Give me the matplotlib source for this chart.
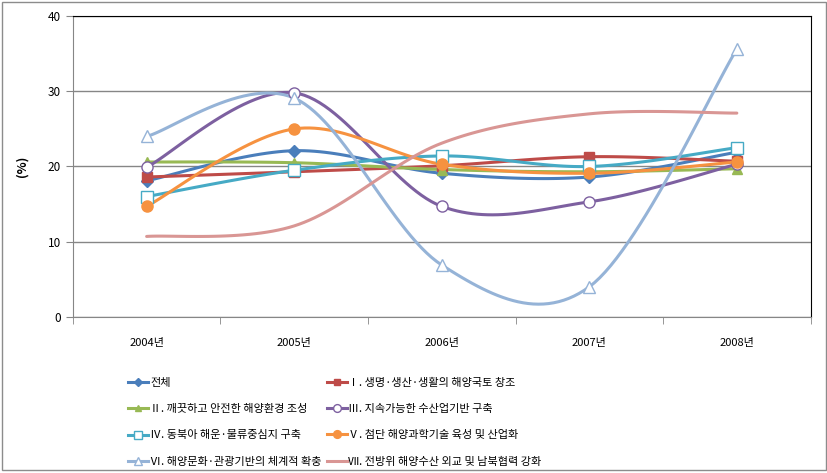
import numpy as np
import matplotlib
matplotlib.use('Agg')
import matplotlib.pyplot as plt
from matplotlib.patches import Rectangle

plt.rcParams['font.family'] = ['Noto Sans CJK KR', 'DejaVu Sans']

years = ['2004년', '2005년', '2006년', '2007년', '2008년']
names = ['전체',
         'Ⅰ. 생명·생산·생활의 해양국토 창조',
         'Ⅱ. 깨끗하고 안전한 해양환경 조성',
         'Ⅲ. 지속가능한 수산업기반 구축',
         'Ⅳ. 동북아 해운·물류중심지 구축',
         'Ⅴ. 첨단 해양과학기술 육성 및 산업화',
         'Ⅵ. 해양문화·관광기반의 체계적 확충',
         'Ⅶ. 전방위 해양수산 외교 및 남북협력 강화']

total = [18.1, 22.1, 19.1, 18.6, 21.9]
s1 = [18.6, 19.3, 20.1, 21.3, 20.7]
s2 = [20.6, 20.5, 19.6, 19.3, 19.7]
s3 = [19.9, 29.8, 14.7, 15.3, 20.3]
s4 = [16.0, 19.5, 21.4, 20.0, 22.5]
s5 = [14.7, 25.0, 20.3, 19.1, 20.6]
s6 = [24.0, 29.1, 6.9, 4.0, 35.6]
s7 = [10.7, 12.1, 23.1, 27.0, 27.1]
series = [total, s1, s2, s3, s4, s5, s6, s7]

colors = ['#4A7EBB', '#BE4B48', '#98B954', '#7D60A0',
          '#46AAC5', '#F69240', '#95B3D7', '#D99694']
markers = ['D', 's', '^', 'o', 's', 'o', '^', None]
filled = [True, True, True, False, False, True, False, True]
msizes = [6, 7, 7, 8, 8, 8, 9, 0]


def smooth(x, y, n=30):
    # Excel-like smoothed line (Catmull-Rom as cubic Bezier)
    x = np.asarray(x, float)
    y = np.asarray(y, float)
    px = np.concatenate([[x[0]], x, [x[-1]]])
    py = np.concatenate([[y[0]], y, [y[-1]]])
    t = np.linspace(0, 1, n)[:, None]
    xs, ys = [], []
    for i in range(1, len(x)):
        p0 = np.array([px[i], py[i]])
        p3 = np.array([px[i + 1], py[i + 1]])
        c1 = p0 + (np.array([px[i + 1], py[i + 1]]) - np.array([px[i - 1], py[i - 1]])) / 6
        c2 = p3 - (np.array([px[i + 2], py[i + 2]]) - np.array([px[i], py[i]])) / 6
        b = ((1 - t) ** 3) * p0 + 3 * ((1 - t) ** 2) * t * c1 + 3 * (1 - t) * t ** 2 * c2 + t ** 3 * p3
        xs.append(b[:, 0])
        ys.append(b[:, 1])
    return np.concatenate(xs), np.concatenate(ys)


fig = plt.figure(figsize=(8.28, 4.73), dpi=100)
fig.patches.append(Rectangle((0.003, 0.006), 0.994, 0.99, transform=fig.transFigure,
                             fill=False, edgecolor='#8C8C8C', linewidth=1))
ax = fig.add_axes([0.088, 0.330, 0.891, 0.636])

x = np.arange(len(years))
handles = []
for i, (vals, c) in enumerate(zip(series, colors)):
    sx, sy = smooth(x, vals)
    ax.plot(sx, sy, color=c, linewidth=2.2, solid_capstyle='round', zorder=3)
    if markers[i]:
        ax.plot(x, vals, linestyle='none', marker=markers[i], markersize=msizes[i],
                markerfacecolor=c if filled[i] else 'white', markeredgecolor=c,
                markeredgewidth=1, zorder=4)
    h, = ax.plot([], [], color=c, linewidth=2.2, marker=markers[i] if markers[i] else None,
                 markersize=msizes[i] * 0.7, markerfacecolor=c if filled[i] else 'white',
                 markeredgecolor=c)
    handles.append(h)

ax.set_xlim(-0.5, len(years) - 0.5)
ax.set_ylim(0, 40)
ax.set_yticks([0, 10, 20, 30, 40])
ax.set_xticks(x)
ax.set_xticklabels(years, fontsize=8)
ax.set_xticks(np.arange(-0.5, len(years)), minor=True)
ax.tick_params(axis='x', which='major', length=0, pad=15)
ax.tick_params(axis='x', which='minor', length=5, color='#868686')
ax.tick_params(axis='y', length=5, color='#868686', labelsize=8.5)
ax.grid(axis='y', color='#868686', linewidth=1)
ax.set_axisbelow(True)
ax.set_ylabel('(%)', fontsize=9, fontweight='bold', labelpad=14)
for s in ['top', 'right']:
    ax.spines[s].set_color('black')
for s in ['left', 'bottom']:
    ax.spines[s].set_color('#868686')

order = [0, 2, 4, 6, 1, 3, 5, 7]
fig.legend([handles[k] for k in order], [names[k] for k in order], ncol=2,
           loc='upper left', bbox_to_anchor=(0.143, 0.222), frameon=False,
           fontsize=8, handlelength=1.8, handletextpad=0.15,
           columnspacing=0.45, labelspacing=1.45)

fig.savefig('out.png', dpi=100)
